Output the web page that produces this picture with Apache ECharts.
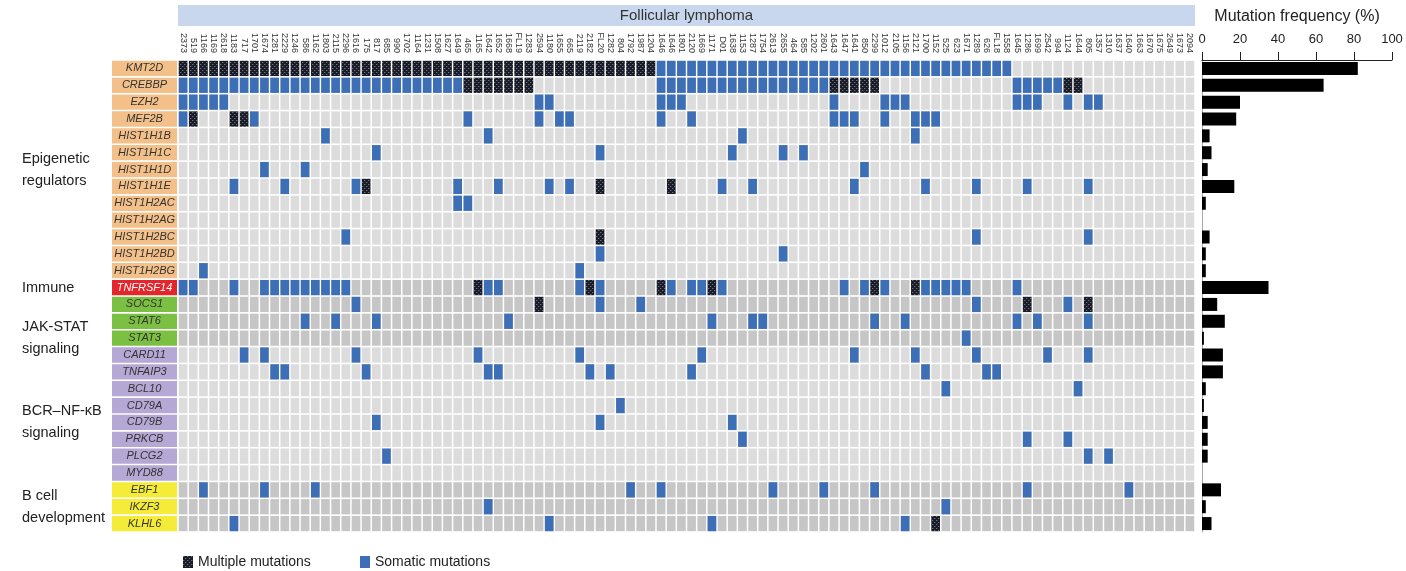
<!DOCTYPE html>
<html>
<head>
<meta charset="utf-8">
<script src="https://cdn.jsdelivr.net/npm/echarts@6/dist/echarts.min.js"></script>
<style>
  html, body { margin: 0; padding: 0; background: #fff; }
  #chart { width: 1406px; height: 571px; }
</style>
</head>
<body>
<div id="chart"></div>
<script>
// ---- data -------------------------------------------------------------
const samples = ['2373','519','1166','1169','2618','1183','717','1701','1674','1281',
  '2229','1246','586','1162','1803','2115','2296','1616','175','817',
  '685','990','1702','1164','1231','1508','1627','1649','465','1165',
  '1642','1652','1668','FL19','1283','2594','1180','1655','665','2119',
  '2182','FL20','1282','804','1792','1987','1204','1646','1646','1801',
  '2120','1669','1171','D01','1638','1153','1287','1754','2613','2655',
  '464','585','1202','2601','1643','1647','1641','850','2299','1012',
  '2105','1156','2121','1700','1152','525','623','1671','1289','626',
  'FL18','1558','1645','1286','1699','2542','994','1124','1644','805',
  '1357','1310','1637','1640','1663','1670','1675','2649','1673','2094'];

const genes = ['KMT2D','CREBBP','EZH2','MEF2B','HIST1H1B','HIST1H1C','HIST1H1D','HIST1H1E',
  'HIST1H2AC','HIST1H2AG','HIST1H2BC','HIST1H2BD','HIST1H2BG','TNFRSF14','SOCS1','STAT6',
  'STAT3','CARD11','TNFAIP3','BCL10','CD79A','CD79B','PRKCB','PLCG2','MYD88',
  'EBF1','IKZF3','KLHL6'];

// pathway of each gene (index into groupNames)
const geneGroup = [0,0,0,0,0,0,0,0,0,0,0,0,0,1,2,2,2,3,3,3,3,3,3,3,3,4,4,4];
const groupNames = ['Epigenetic\nregulators','Immune','JAK-STAT\nsignaling','BCR\u2013NF-\u03baB\nsignaling','B cell\ndevelopment'];

// sample columns carrying one somatic mutation, per gene (same order as genes)
const somaticCols = [
  [47,48,49,50,51,52,53,54,55,56,57,58,59,60,61,62,63,64,65,66,67,68,69,70,71,72,73,74,75,76,77,78,79,80,81],
  [0,1,2,3,4,5,6,7,8,9,10,11,12,13,14,15,16,17,18,19,20,21,22,23,24,25,26,27,47,48,49,50,51,52,53,54,55,56,57,58,59,60,61,62,63,82,83,84,85,86],
  [0,1,2,3,4,35,36,47,48,49,64,69,70,71,82,83,84,87,89,90],
  [0,7,28,35,37,38,47,50,64,65,66,69,72,73,74],
  [14,30,55,72],
  [19,41,54,59,61],
  [8,12,67],
  [5,10,17,27,31,36,38,53,56,66,73,78,83,89],
  [27,28],
  [],
  [16,78,89],
  [41,59],
  [2,39],
  [0,1,5,8,9,10,11,12,13,14,15,16,30,31,39,41,48,50,51,53,65,67,69,73,74,75,76,77,82],
  [17,41,45,78,87],
  [12,15,19,32,52,56,57,68,71,82,84,89],
  [77],
  [6,8,17,29,39,51,66,72,78,85,89],
  [9,10,18,30,31,40,42,50,73,79,80],
  [75,88],
  [43],
  [19,41,54],
  [55,83,87],
  [20,89,91],
  [],
  [2,8,13,44,47,58,63,68,83,93],
  [30,75],
  [5,36,52,71]
];

// sample columns carrying multiple mutations, per gene
const multipleCols = [
  [0,1,2,3,4,5,6,7,8,9,10,11,12,13,14,15,16,17,18,19,20,21,22,23,24,25,26,27,28,29,30,31,32,33,34,35,36,37,38,39,40,41,42,43,44,45,46],
  [28,29,30,31,32,33,34,64,65,66,67,68,87,88],
  [],
  [1,5,6],
  [],[],[],
  [18,41,48],
  [],[],
  [41],
  [],[],
  [29,40,47,52,68,72],
  [35,83,89],
  [],[],[],[],[],[],[],[],[],[],[],[],
  [74]
];

// mutation frequency (%) per gene
const frequency = [82,64,20,18,4,5,3,17,2,0,4,2,2,35,8,12,1,11,11,2,1,3,3,3,0,10,2,5];

// ---- styling ------------------------------------------------------------
const FONT = '"Liberation Sans", Arial, Helvetica, sans-serif';
const groupFill = ['#f4c08a', '#e3262b', '#7cc043', '#b5a8d4', '#f4ec38'];
const groupText = ['#333333', '#ffffff', '#333333', '#333333', '#333333'];
const groupCell = ['#dcdcdc', '#c6c6c6', '#c6c6c6', '#dcdcdc', '#c6c6c6'];
const SOMATIC = '#3d6fb7';

// dotted dark texture for multiple-mutation cells
const tex = document.createElement('canvas');
tex.width = 4; tex.height = 4;
(function () {
  const c = tex.getContext('2d');
  c.fillStyle = '#191c27'; c.fillRect(0, 0, 4, 4);
  c.fillStyle = '#6b7282'; c.fillRect(0, 0, 1, 1); c.fillRect(2, 2, 1, 1);
  c.fillStyle = '#343947'; c.fillRect(1, 0, 1, 1); c.fillRect(3, 2, 1, 1);
})();
const MULTI = { image: tex, repeat: 'repeat' };

// layout
const GL = 178, GT = 60, GW = 1017, GH = 472;   // mutation grid
const LL = 12;                                  // label panel left edge
const FL = 1202, FW = 190;                      // frequency panel

// ---- series data --------------------------------------------------------
const bgData = [];
genes.forEach((g, r) => samples.forEach((s, c) => bgData.push([c, r])));
const somaticData = [];
somaticCols.forEach((cols, r) => cols.forEach(c => somaticData.push([c, r])));
const multipleData = [];
multipleCols.forEach((cols, r) => cols.forEach(c => multipleData.push([c, r])));
const groupData = groupNames.map((n, gi) => {
  const rows = geneGroup.map((g, i) => g === gi ? i : -1).filter(i => i >= 0);
  return [gi, rows[0], rows[rows.length - 1]];
});

function cellRect(api) {
  const p = api.coord([api.value(0), api.value(1)]);
  const s = api.size([1, 1]);
  const gx = 1.5, gy = 1.6;
  return { x: p[0] - s[0] / 2 + gx / 2, y: p[1] - s[1] / 2 + gy / 2, width: s[0] - gx, height: s[1] - gy };
}

const chart = echarts.init(document.getElementById('chart'), null, { renderer: 'canvas' });

chart.setOption({
  animation: false,
  backgroundColor: '#ffffff',
  textStyle: { fontFamily: FONT },
  legend: [
    { left: 178, top: 550, itemWidth: 10, itemHeight: 12, icon: 'rect', selectedMode: false, itemGap: 8,
      data: ['Multiple mutations'], textStyle: { fontSize: 14, color: '#222', fontFamily: FONT } },
    { left: 355, top: 550, itemWidth: 10, itemHeight: 12, icon: 'rect', selectedMode: false, itemGap: 8,
      data: ['Somatic mutations'], textStyle: { fontSize: 14, color: '#222', fontFamily: FONT } }
  ],
  graphic: [
    { type: 'rect', left: GL, top: 5, shape: { width: GW, height: 21 }, style: { fill: '#c8d7ed' }, silent: true },
    { type: 'text', x: GL + GW / 2, y: 16, style: { text: 'Follicular lymphoma', align: 'center', verticalAlign: 'middle',
      font: '15px ' + FONT, fill: '#333' }, silent: true }
  ],
  grid: [
    { left: GL, top: GT, width: GW, height: GH },
    { left: LL, top: GT, width: GL - LL, height: GH },
    { left: FL, top: GT, width: FW, height: GH }
  ],
  xAxis: [
    { gridIndex: 0, type: 'category', data: samples, position: 'top',
      axisLine: { show: false }, axisTick: { show: false }, splitLine: { show: false },
      axisLabel: { rotate: 90, interval: 0, fontSize: 9, margin: 7, color: '#333', fontFamily: FONT } },
    { gridIndex: 1, type: 'value', min: 0, max: GL - LL, show: false },
    { gridIndex: 2, type: 'value', min: 0, max: 100, interval: 20, position: 'top',
      name: 'Mutation frequency (%)', nameLocation: 'middle', nameGap: 35,
      nameTextStyle: { fontSize: 16, color: '#222', fontFamily: FONT },
      axisLine: { show: true, lineStyle: { color: '#222', width: 1 } },
      axisTick: { show: true, length: 8, lineStyle: { color: '#222' } },
      axisLabel: { fontSize: 13, color: '#222', margin: 14, fontFamily: FONT },
      splitLine: { show: false } }
  ],
  yAxis: [
    { gridIndex: 0, type: 'category', data: genes, inverse: true, show: false },
    { gridIndex: 1, type: 'category', data: genes, inverse: true, show: false },
    { gridIndex: 2, type: 'category', data: genes, inverse: true,
      axisLine: { show: true, lineStyle: { color: '#aaaaaa', width: 1 } },
      axisTick: { show: false }, axisLabel: { show: false }, splitLine: { show: false } }
  ],
  series: [
    { // grey background cells
      name: 'cells', type: 'custom', xAxisIndex: 0, yAxisIndex: 0, silent: true, progressive: 0,
      data: bgData,
      renderItem: (params, api) => ({ type: 'rect', shape: cellRect(api),
        style: { fill: groupCell[geneGroup[api.value(1)]] } })
    },
    {
      name: 'Somatic mutations', type: 'custom', xAxisIndex: 0, yAxisIndex: 0, progressive: 0,
      itemStyle: { color: SOMATIC },
      data: somaticData,
      renderItem: (params, api) => ({ type: 'rect', shape: cellRect(api), style: { fill: SOMATIC } })
    },
    {
      name: 'Multiple mutations', type: 'custom', xAxisIndex: 0, yAxisIndex: 0, progressive: 0,
      itemStyle: { color: MULTI },
      data: multipleData,
      renderItem: (params, api) => ({ type: 'rect', shape: cellRect(api), style: { fill: MULTI } })
    },
    { // coloured gene name boxes
      name: 'genes', type: 'custom', xAxisIndex: 1, yAxisIndex: 1, silent: true,
      data: genes.map((g, i) => [i]),
      encode: { y: 0 },
      renderItem: (params, api) => {
        const r = api.value(0);
        const a = api.coord([100, r]);
        const b = api.coord([GL - LL - 1, r]);
        const h = api.size([0, 1])[1];
        const gi = geneGroup[r];
        return { type: 'group', children: [
          { type: 'rect', shape: { x: a[0], y: a[1] - h / 2 + 0.8, width: b[0] - a[0], height: h - 1.6 },
            style: { fill: groupFill[gi] } },
          { type: 'text', style: { text: genes[r], x: (a[0] + b[0]) / 2, y: a[1], align: 'center',
            verticalAlign: 'middle', font: 'italic 11px ' + FONT, fill: groupText[gi] } }
        ] };
      }
    },
    { // pathway labels
      name: 'groups', type: 'custom', xAxisIndex: 1, yAxisIndex: 1, silent: true,
      data: groupData,
      encode: { y: [1, 2] },
      renderItem: (params, api) => {
        const gi = api.value(0);
        const shift = gi === 2 ? 0.75 : 0.15;
        const mid = (api.value(1) + api.value(2)) / 2 + shift;
        const p = api.coord([10, mid]);
        return { type: 'text', style: { text: groupNames[gi], x: p[0], y: p[1], align: 'left',
          verticalAlign: 'middle', font: '14.5px ' + FONT, lineHeight: 22, fill: '#222' } };
      }
    },
    {
      name: 'frequency', type: 'bar', xAxisIndex: 2, yAxisIndex: 2, silent: true,
      data: frequency, barWidth: 13,
      itemStyle: { color: '#000000' }
    }
  ]
});
</script>
</body>
</html>
